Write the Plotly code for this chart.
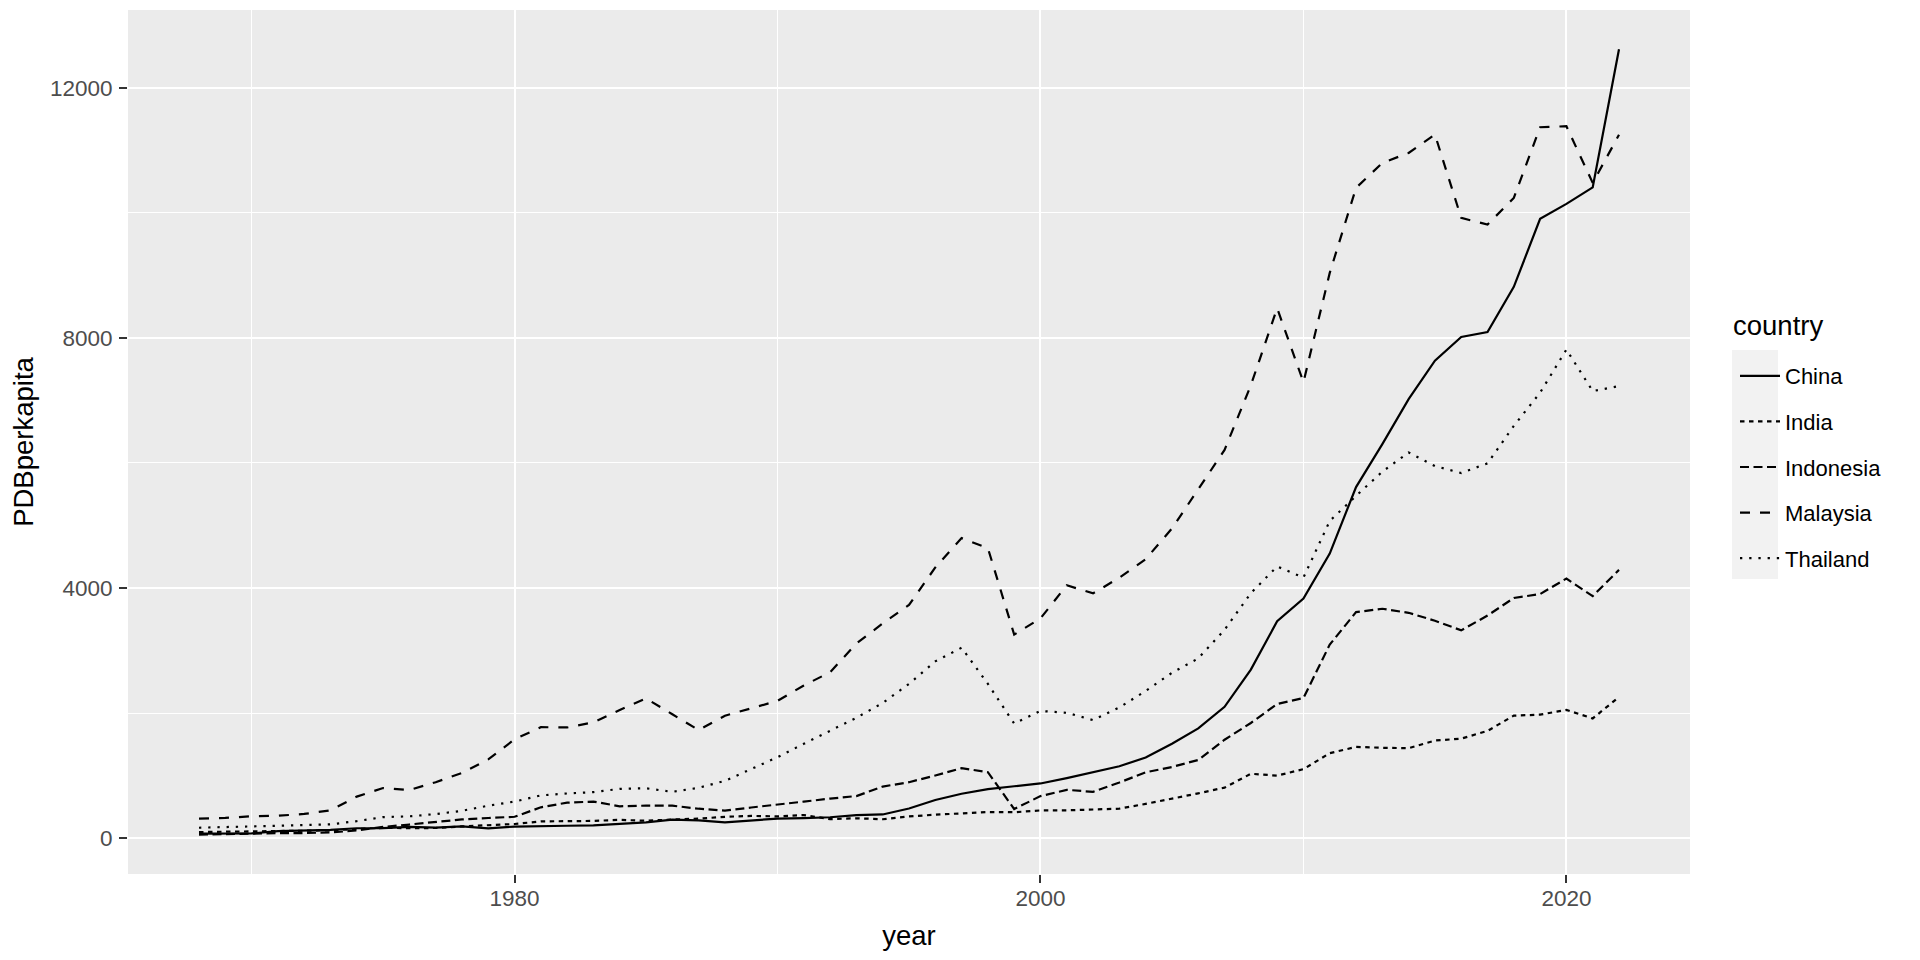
import plotly.graph_objects as go

years = list(range(1968, 2023))

china = [72.0, 69.9, 73.3, 111.8, 118.7, 131.9, 157.1, 160.1, 178.3, 165.4,
         185.4, 156.4, 183.9, 194.8, 197.1, 203.3, 225.4, 250.7, 294.5, 281.9,
         251.8, 283.5, 310.9, 317.9, 333.1, 366.5, 377.4, 473.5, 609.7, 709.4,
         781.7, 828.6, 873.3, 959.4, 1053.1, 1148.5, 1288.6, 1508.7, 1753.4, 2099.2,
         2694.0, 3468.3, 3832.2, 4550.5, 5614.4, 6300.6, 7020.4, 7636.1, 8016.4, 8094.4,
         8817.0, 9905.4, 10143.9, 10408.7, 12617.5]

india = [96.0, 99.9, 107.6, 112.4, 118.6, 123.0, 143.8, 163.2, 158.0, 161.1,
         186.4, 206.1, 224.6, 266.6, 270.5, 274.1, 291.2, 276.7, 296.4, 310.5,
         340.4, 354.2, 346.1, 367.6, 303.1, 316.8, 301.2, 346.1, 373.8, 399.9,
         415.5, 413.3, 442.0, 443.3, 451.6, 470.0, 546.7, 627.8, 714.9, 806.8,
         1028.3, 998.5, 1102.0, 1357.6, 1458.1, 1443.9, 1438.1, 1559.9, 1590.2, 1714.3,
         1958.0, 1974.4, 2050.2, 1913.2, 2256.6]

indonesia = [53.5, 65.7, 74.1, 79.7, 80.3, 89.6, 121.4, 177.4, 216.3, 254.9,
             298.4, 320.8, 340.5, 491.7, 566.6, 583.7, 507.6, 519.2, 517.4, 469.2,
             438.4, 488.7, 532.3, 582.7, 631.7, 671.5, 823.8, 893.5, 1000.9, 1118.3,
             1053.4, 463.9, 671.1, 770.9, 739.0, 888.1, 1052.4, 1136.8, 1249.4, 1572.8,
             1840.3, 2144.4, 2239.1, 3094.3, 3613.8, 3668.2, 3602.9, 3476.6, 3322.6, 3558.8,
             3839.8, 3902.7, 4151.2, 3870.0, 4290.0]

malaysia = [310, 322, 348, 357, 386, 443, 663, 800, 769, 893,
            1042, 1258, 1580, 1774, 1769, 1852, 2048, 2234, 1980, 1728,
            1957, 2075, 2194, 2441, 2653, 3113, 3433, 3728, 4329, 4798,
            4638, 3254, 3514, 4044, 3914, 4165, 4461, 4952, 5587, 6209,
            7243, 8475, 7292, 9041, 10400, 10800, 10960, 11254, 9920, 9814,
            10240, 11371, 11387, 10480, 11250]

thailand = [165, 175, 185, 195, 200, 219, 271, 335, 348, 383,
            436, 518, 583, 683, 713, 735, 787, 796, 739, 804,
            915, 1105, 1293, 1508, 1722, 1925, 2161, 2466, 2826, 3044,
            2467, 1831, 2033, 2004, 1887, 2089, 2353, 2643, 2874, 3331,
            3918, 4345, 4166, 5072, 5474, 5861, 6168, 5951, 5840, 5994,
            6593, 7125, 7814, 7150, 7230]

countries = ["China", "India", "Indonesia", "Malaysia", "Thailand"]
series = [china, india, indonesia, malaysia, thailand]
dashes = ["solid", "4.5px,4.5px", "9px,4.5px", "10px,10px", "2.3px,6.9px"]

x_ticks = [1980, 2000, 2020]
x_minor = [1970, 1990, 2010]
y_ticks = [0, 4000, 8000, 12000]
y_minor = [2000, 6000, 10000]

FONT = "Liberation Sans, Arial, sans-serif"

# page body has an 8px default margin, so the figure is 1904x944 and
# offsets below are expressed in figure pixels
W, H = 1904, 944
L, R, T, B = 120, 222, 2, 78
PW, PH = W - L - R, H - T - B


def px_x(x):
    return (x - L) / PW


def px_y(y):
    return (H - B - y) / PH


fig = go.Figure()
for name, vals, dash in zip(countries, series, dashes):
    fig.add_trace(go.Scatter(
        x=years, y=vals, mode="lines", name=name, legendgroup=name,
        line=dict(color="black", width=2.2, dash=dash),
    ))

# legend key background (ggplot-style grey key boxes)
fig.add_shape(type="rect", xref="paper", yref="paper",
              x0=px_x(1724), x1=px_x(1770), y0=px_y(571), y1=px_y(342),
              fillcolor="#F2F2F2", line=dict(width=0), layer="below")

fig.add_annotation(text="country", xref="paper", yref="paper",
                   x=px_x(1723), y=px_y(317), xanchor="left", yanchor="middle",
                   showarrow=False,
                   font=dict(size=27.5, family=FONT, color="black"))

fig.update_layout(
    width=W, height=H,
    margin=dict(l=L, r=R, t=T, b=B, pad=0),
    paper_bgcolor="white", plot_bgcolor="#EBEBEB",
    font=dict(family=FONT, color="black"),
    showlegend=True,
    legend=dict(
        font=dict(size=22, family=FONT, color="black"),
        x=px_x(1727), xanchor="left", y=px_y(459), yanchor="middle",
        bgcolor="rgba(0,0,0,0)", traceorder="grouped", tracegroupgap=14,
        itemwidth=40,
    ),
    xaxis=dict(
        range=[1965.3, 2024.7], tickmode="array", tickvals=x_ticks,
        ticktext=[str(v) for v in x_ticks],
        ticks="outside", ticklen=8, tickwidth=1.5, tickcolor="#333333",
        showgrid=True, gridcolor="white", gridwidth=2.1,
        minor=dict(tickvals=x_minor, showgrid=True, gridcolor="white", gridwidth=1.1, ticks=""),
        zeroline=False, showline=False,
        tickfont=dict(family=FONT, size=22.5, color="#4D4D4D"),
        ticklabelstandoff=-4,
        title=dict(text="year", font=dict(family=FONT, size=27.5, color="black"), standoff=15),
    ),
    yaxis=dict(
        range=[-575, 13246], tickmode="array", tickvals=y_ticks,
        ticktext=[str(v) for v in y_ticks],
        ticks="outside", ticklen=8, tickwidth=1.5, tickcolor="#333333",
        showgrid=True, gridcolor="white", gridwidth=2.1,
        minor=dict(tickvals=y_minor, showgrid=True, gridcolor="white", gridwidth=1.1, ticks=""),
        zeroline=False, showline=False,
        tickfont=dict(family=FONT, size=22.5, color="#4D4D4D"),
        ticklabelstandoff=2,
        title=dict(text="PDBperkapita", font=dict(family=FONT, size=27.5, color="black"), standoff=9),
    ),
)

fig.write_html("out.html")
